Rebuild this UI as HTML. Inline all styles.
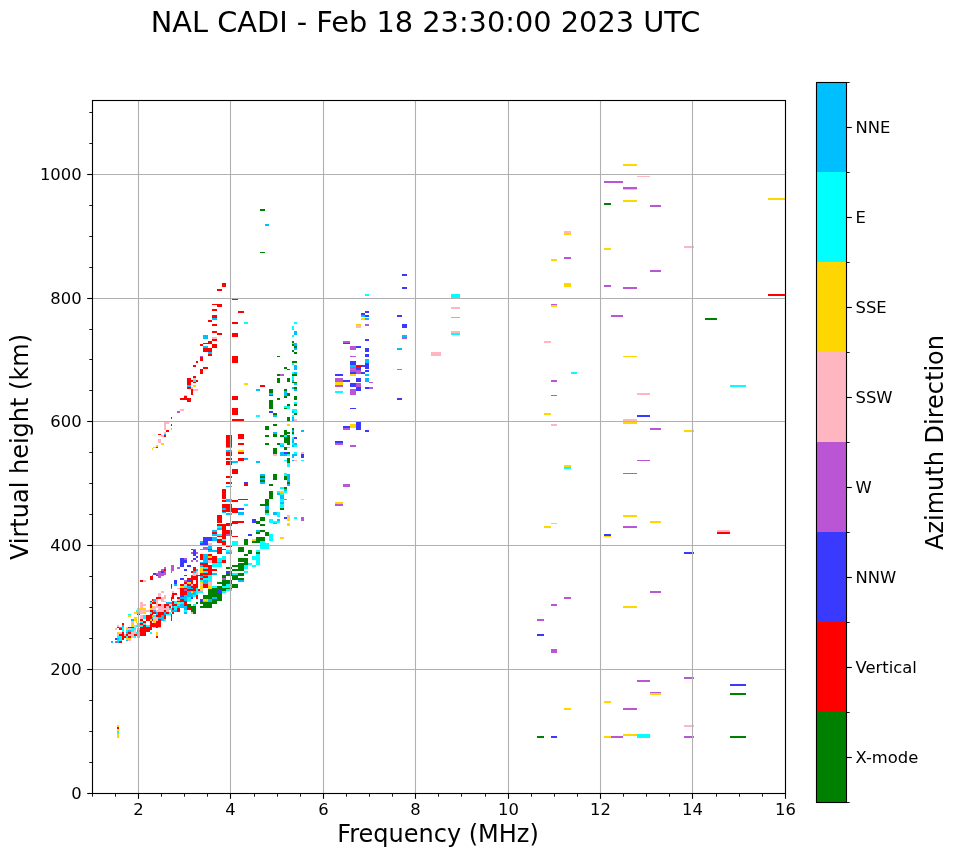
<!DOCTYPE html>
<html lang="en"><head><meta charset="utf-8"><title>NAL CADI ionogram</title>
<style>html,body{margin:0;padding:0;background:#fff}body{width:958px;height:857px;overflow:hidden}svg{display:block}text{font-family:"DejaVu Sans","Liberation Sans",sans-serif;fill:#000}</style></head><body>
<svg width="958" height="857" viewBox="0 0 958 857">
<rect width="958" height="857" fill="#fff"/>
<g shape-rendering="crispEdges">
<rect x="623" y="164" width="14" height="2" fill="#ffd700"/>
<rect x="637" y="176" width="13" height="1" fill="#ffb6c1"/>
<rect x="604" y="181" width="19" height="2" fill="#ba55d3"/>
<rect x="623" y="187" width="14" height="2" fill="#ba55d3"/>
<rect x="623" y="189" width="14" height="1" fill="#ffb6c1"/>
<rect x="623" y="200" width="14" height="2" fill="#ffd700"/>
<rect x="604" y="203" width="7" height="2" fill="#008000"/>
<rect x="650" y="205" width="11" height="2" fill="#ba55d3"/>
<rect x="564" y="231" width="7" height="2" fill="#ffb6c1"/>
<rect x="564" y="233" width="7" height="2" fill="#ffd700"/>
<rect x="604" y="248" width="7" height="2" fill="#ffd700"/>
<rect x="564" y="257" width="7" height="2" fill="#ba55d3"/>
<rect x="551" y="259" width="6" height="2" fill="#ffd700"/>
<rect x="650" y="270" width="11" height="2" fill="#ba55d3"/>
<rect x="564" y="283" width="7" height="4" fill="#ffd700"/>
<rect x="604" y="285" width="7" height="2" fill="#ba55d3"/>
<rect x="623" y="287" width="14" height="2" fill="#ba55d3"/>
<rect x="768" y="198" width="17" height="2" fill="#ffd700"/>
<rect x="684" y="246" width="10" height="2" fill="#ffb6c1"/>
<rect x="551" y="304" width="6" height="1" fill="#ba55d3"/>
<rect x="551" y="305" width="6" height="2" fill="#ffd700"/>
<rect x="611" y="315" width="12" height="2" fill="#ba55d3"/>
<rect x="544" y="341" width="7" height="2" fill="#ffb6c1"/>
<rect x="623" y="356" width="14" height="1" fill="#ffd700"/>
<rect x="571" y="372" width="6" height="2" fill="#00ffff"/>
<rect x="551" y="380" width="6" height="2" fill="#ba55d3"/>
<rect x="551" y="395" width="6" height="1" fill="#ba55d3"/>
<rect x="637" y="393" width="13" height="2" fill="#ffb6c1"/>
<rect x="544" y="413" width="7" height="2" fill="#ffd700"/>
<rect x="637" y="415" width="13" height="2" fill="#3a3aff"/>
<rect x="623" y="419" width="14" height="3" fill="#ffb6c1"/>
<rect x="623" y="422" width="14" height="2" fill="#ffd700"/>
<rect x="551" y="424" width="6" height="2" fill="#ffb6c1"/>
<rect x="650" y="428" width="11" height="2" fill="#ba55d3"/>
<rect x="684" y="430" width="10" height="2" fill="#ffd700"/>
<rect x="768" y="294" width="17" height="2" fill="#ff0000"/>
<rect x="705" y="318" width="12" height="2" fill="#008000"/>
<rect x="730" y="385" width="16" height="2" fill="#00ffff"/>
<rect x="637" y="460" width="13" height="1" fill="#ba55d3"/>
<rect x="564" y="465" width="7" height="2" fill="#ffd700"/>
<rect x="564" y="467" width="7" height="2" fill="#00ffff"/>
<rect x="623" y="473" width="14" height="1" fill="#ba55d3"/>
<rect x="623" y="515" width="14" height="2" fill="#ffd700"/>
<rect x="650" y="521" width="11" height="2" fill="#ffd700"/>
<rect x="551" y="523" width="6" height="1" fill="#ffb6c1"/>
<rect x="544" y="526" width="7" height="2" fill="#ffd700"/>
<rect x="623" y="526" width="14" height="2" fill="#ba55d3"/>
<rect x="604" y="534" width="7" height="2" fill="#3a3aff"/>
<rect x="604" y="536" width="7" height="1" fill="#ffd700"/>
<rect x="684" y="552" width="10" height="2" fill="#3a3aff"/>
<rect x="717" y="530" width="13" height="2" fill="#ffb6c1"/>
<rect x="717" y="532" width="13" height="2" fill="#ff0000"/>
<rect x="650" y="591" width="11" height="2" fill="#ba55d3"/>
<rect x="564" y="597" width="7" height="2" fill="#ba55d3"/>
<rect x="551" y="604" width="6" height="2" fill="#ba55d3"/>
<rect x="623" y="606" width="14" height="2" fill="#ffd700"/>
<rect x="537" y="619" width="7" height="2" fill="#ba55d3"/>
<rect x="537" y="634" width="7" height="2" fill="#3a3aff"/>
<rect x="551" y="649" width="6" height="4" fill="#ba55d3"/>
<rect x="684" y="677" width="10" height="2" fill="#ba55d3"/>
<rect x="637" y="680" width="13" height="2" fill="#ba55d3"/>
<rect x="650" y="692" width="11" height="1" fill="#ba55d3"/>
<rect x="650" y="693" width="11" height="2" fill="#ffd700"/>
<rect x="604" y="701" width="7" height="2" fill="#ffd700"/>
<rect x="564" y="708" width="7" height="2" fill="#ffd700"/>
<rect x="623" y="708" width="14" height="2" fill="#ba55d3"/>
<rect x="730" y="684" width="16" height="2" fill="#3a3aff"/>
<rect x="730" y="693" width="16" height="2" fill="#008000"/>
<rect x="684" y="725" width="10" height="2" fill="#ffb6c1"/>
<rect x="537" y="736" width="7" height="2" fill="#008000"/>
<rect x="551" y="736" width="6" height="2" fill="#3a3aff"/>
<rect x="604" y="736" width="7" height="2" fill="#ffd700"/>
<rect x="611" y="736" width="12" height="2" fill="#ba55d3"/>
<rect x="623" y="734" width="14" height="2" fill="#ffd700"/>
<rect x="637" y="734" width="13" height="4" fill="#00ffff"/>
<rect x="684" y="736" width="10" height="2" fill="#ba55d3"/>
<rect x="730" y="736" width="16" height="2" fill="#008000"/>
<rect x="402" y="274" width="5" height="2" fill="#3a3aff"/>
<rect x="402" y="287" width="5" height="2" fill="#3a3aff"/>
<rect x="365" y="294" width="4" height="2" fill="#00ffff"/>
<rect x="451" y="294" width="9" height="4" fill="#00ffff"/>
<rect x="451" y="307" width="9" height="2" fill="#ffb6c1"/>
<rect x="451" y="317" width="9" height="1" fill="#00ffff"/>
<rect x="451" y="331" width="9" height="2" fill="#ffb6c1"/>
<rect x="451" y="333" width="9" height="2" fill="#00ffff"/>
<rect x="431" y="352" width="10" height="4" fill="#ffb6c1"/>
<rect x="397" y="315" width="5" height="2" fill="#3a3aff"/>
<rect x="402" y="324" width="5" height="4" fill="#3a3aff"/>
<rect x="402" y="335" width="5" height="2" fill="#00bfff"/>
<rect x="402" y="337" width="5" height="2" fill="#ba55d3"/>
<rect x="397" y="348" width="5" height="2" fill="#00bfff"/>
<rect x="397" y="369" width="5" height="1" fill="#00bfff"/>
<rect x="365" y="311" width="4" height="2" fill="#3a3aff"/>
<rect x="365" y="315" width="4" height="2" fill="#3a3aff"/>
<rect x="365" y="318" width="4" height="2" fill="#00bfff"/>
<rect x="365" y="324" width="4" height="2" fill="#ba55d3"/>
<rect x="365" y="339" width="4" height="2" fill="#3a3aff"/>
<rect x="365" y="348" width="4" height="4" fill="#3a3aff"/>
<rect x="365" y="354" width="4" height="3" fill="#3a3aff"/>
<rect x="365" y="359" width="4" height="4" fill="#00bfff"/>
<rect x="365" y="363" width="4" height="6" fill="#3a3aff"/>
<rect x="365" y="370" width="4" height="2" fill="#3a3aff"/>
<rect x="365" y="374" width="4" height="2" fill="#00bfff"/>
<rect x="365" y="378" width="4" height="4" fill="#00bfff"/>
<rect x="365" y="387" width="4" height="2" fill="#3a3aff"/>
<rect x="361" y="313" width="4" height="2" fill="#3a3aff"/>
<rect x="361" y="315" width="4" height="2" fill="#00bfff"/>
<rect x="361" y="318" width="4" height="2" fill="#ffd700"/>
<rect x="361" y="365" width="4" height="2" fill="#3a3aff"/>
<rect x="361" y="372" width="4" height="2" fill="#3a3aff"/>
<rect x="356" y="324" width="5" height="2" fill="#ffd700"/>
<rect x="356" y="326" width="5" height="2" fill="#ffb6c1"/>
<rect x="356" y="346" width="5" height="2" fill="#3a3aff"/>
<rect x="356" y="365" width="5" height="2" fill="#ff0000"/>
<rect x="356" y="367" width="5" height="3" fill="#3a3aff"/>
<rect x="356" y="370" width="5" height="4" fill="#ba55d3"/>
<rect x="356" y="378" width="5" height="4" fill="#3a3aff"/>
<rect x="356" y="383" width="5" height="4" fill="#ba55d3"/>
<rect x="356" y="387" width="5" height="4" fill="#3a3aff"/>
<rect x="350" y="346" width="6" height="4" fill="#ba55d3"/>
<rect x="350" y="356" width="6" height="1" fill="#ba55d3"/>
<rect x="350" y="361" width="6" height="4" fill="#3a3aff"/>
<rect x="350" y="365" width="6" height="2" fill="#00bfff"/>
<rect x="350" y="367" width="6" height="2" fill="#ba55d3"/>
<rect x="350" y="369" width="6" height="1" fill="#00bfff"/>
<rect x="350" y="370" width="6" height="2" fill="#ba55d3"/>
<rect x="350" y="372" width="6" height="2" fill="#3a3aff"/>
<rect x="350" y="374" width="6" height="2" fill="#ffd700"/>
<rect x="350" y="383" width="6" height="4" fill="#3a3aff"/>
<rect x="350" y="389" width="6" height="6" fill="#ba55d3"/>
<rect x="343" y="341" width="7" height="2" fill="#ba55d3"/>
<rect x="343" y="343" width="7" height="1" fill="#3a3aff"/>
<rect x="343" y="380" width="7" height="2" fill="#3a3aff"/>
<rect x="335" y="374" width="8" height="2" fill="#3a3aff"/>
<rect x="335" y="378" width="8" height="4" fill="#ba55d3"/>
<rect x="335" y="382" width="8" height="3" fill="#ffd700"/>
<rect x="335" y="385" width="8" height="2" fill="#ba55d3"/>
<rect x="335" y="391" width="8" height="2" fill="#00ffff"/>
<rect x="369" y="382" width="4" height="1" fill="#ba55d3"/>
<rect x="369" y="387" width="4" height="2" fill="#ba55d3"/>
<rect x="397" y="398" width="5" height="2" fill="#3a3aff"/>
<rect x="350" y="408" width="6" height="1" fill="#3a3aff"/>
<rect x="343" y="426" width="7" height="2" fill="#3a3aff"/>
<rect x="343" y="428" width="7" height="2" fill="#ba55d3"/>
<rect x="350" y="424" width="6" height="4" fill="#ffd700"/>
<rect x="356" y="422" width="5" height="8" fill="#3a3aff"/>
<rect x="365" y="430" width="4" height="2" fill="#3a3aff"/>
<rect x="335" y="441" width="8" height="2" fill="#3a3aff"/>
<rect x="335" y="443" width="8" height="2" fill="#ba55d3"/>
<rect x="350" y="445" width="6" height="2" fill="#ba55d3"/>
<rect x="343" y="484" width="7" height="3" fill="#ba55d3"/>
<rect x="335" y="502" width="8" height="2" fill="#ffd700"/>
<rect x="335" y="504" width="8" height="2" fill="#ba55d3"/>
<rect x="260" y="209" width="5" height="2" fill="#008000"/>
<rect x="265" y="224" width="4" height="2" fill="#00bfff"/>
<rect x="260" y="252" width="5" height="1" fill="#008000"/>
<rect x="222" y="283" width="4" height="4" fill="#ff0000"/>
<rect x="217" y="289" width="5" height="2" fill="#ff0000"/>
<rect x="232" y="298" width="6" height="2" fill="#ff0000"/>
<rect x="212" y="304" width="5" height="1" fill="#ff0000"/>
<rect x="217" y="304" width="5" height="3" fill="#ff0000"/>
<rect x="212" y="309" width="5" height="2" fill="#ff0000"/>
<rect x="238" y="311" width="6" height="2" fill="#ff0000"/>
<rect x="212" y="315" width="5" height="3" fill="#ff0000"/>
<rect x="212" y="318" width="5" height="2" fill="#00bfff"/>
<rect x="232" y="322" width="6" height="2" fill="#ff0000"/>
<rect x="232" y="333" width="6" height="4" fill="#ff0000"/>
<rect x="232" y="356" width="6" height="7" fill="#ff0000"/>
<rect x="232" y="396" width="6" height="4" fill="#ff0000"/>
<rect x="244" y="322" width="4" height="2" fill="#00ffff"/>
<rect x="244" y="383" width="4" height="2" fill="#ffd700"/>
<rect x="212" y="324" width="5" height="2" fill="#ff0000"/>
<rect x="212" y="331" width="5" height="2" fill="#ff0000"/>
<rect x="212" y="337" width="5" height="2" fill="#ffb6c1"/>
<rect x="212" y="339" width="5" height="2" fill="#ff0000"/>
<rect x="212" y="344" width="5" height="4" fill="#ff0000"/>
<rect x="217" y="333" width="5" height="2" fill="#ff0000"/>
<rect x="208" y="320" width="4" height="2" fill="#ff0000"/>
<rect x="208" y="341" width="4" height="3" fill="#ff0000"/>
<rect x="208" y="348" width="4" height="4" fill="#ff0000"/>
<rect x="208" y="352" width="4" height="2" fill="#00bfff"/>
<rect x="208" y="354" width="4" height="2" fill="#ff0000"/>
<rect x="203" y="335" width="5" height="4" fill="#00bfff"/>
<rect x="203" y="343" width="5" height="1" fill="#ff0000"/>
<rect x="203" y="346" width="5" height="2" fill="#00bfff"/>
<rect x="203" y="348" width="5" height="4" fill="#ff0000"/>
<rect x="203" y="367" width="5" height="2" fill="#ff0000"/>
<rect x="200" y="344" width="3" height="2" fill="#ff0000"/>
<rect x="200" y="356" width="3" height="1" fill="#ba55d3"/>
<rect x="200" y="357" width="3" height="4" fill="#ff0000"/>
<rect x="200" y="369" width="3" height="5" fill="#ff0000"/>
<rect x="196" y="361" width="2" height="2" fill="#ff0000"/>
<rect x="196" y="380" width="2" height="2" fill="#ff0000"/>
<rect x="193" y="365" width="3" height="2" fill="#ff0000"/>
<rect x="193" y="376" width="3" height="2" fill="#ff0000"/>
<rect x="193" y="378" width="3" height="2" fill="#ffb6c1"/>
<rect x="193" y="380" width="3" height="2" fill="#00ffff"/>
<rect x="193" y="382" width="3" height="1" fill="#ff0000"/>
<rect x="193" y="385" width="3" height="2" fill="#ffd700"/>
<rect x="193" y="389" width="5" height="2" fill="#ffb6c1"/>
<rect x="191" y="380" width="2" height="2" fill="#ff0000"/>
<rect x="191" y="387" width="2" height="2" fill="#ffb6c1"/>
<rect x="191" y="389" width="2" height="6" fill="#ff0000"/>
<rect x="187" y="378" width="4" height="7" fill="#ff0000"/>
<rect x="187" y="385" width="4" height="2" fill="#00bfff"/>
<rect x="187" y="387" width="4" height="2" fill="#ff0000"/>
<rect x="187" y="398" width="4" height="4" fill="#ff0000"/>
<rect x="184" y="395" width="3" height="1" fill="#ffb6c1"/>
<rect x="184" y="396" width="3" height="4" fill="#ff0000"/>
<rect x="180" y="398" width="4" height="2" fill="#ff0000"/>
<rect x="180" y="409" width="4" height="2" fill="#ffb6c1"/>
<rect x="177" y="411" width="3" height="2" fill="#ba55d3"/>
<rect x="232" y="408" width="6" height="7" fill="#ff0000"/>
<rect x="232" y="419" width="12" height="2" fill="#ff0000"/>
<rect x="232" y="461" width="6" height="2" fill="#00bfff"/>
<rect x="232" y="469" width="6" height="5" fill="#ff0000"/>
<rect x="232" y="500" width="6" height="2" fill="#ff0000"/>
<rect x="238" y="434" width="6" height="5" fill="#ff0000"/>
<rect x="238" y="443" width="6" height="2" fill="#ff0000"/>
<rect x="238" y="450" width="6" height="2" fill="#ffd700"/>
<rect x="238" y="452" width="6" height="2" fill="#ff0000"/>
<rect x="238" y="458" width="6" height="3" fill="#ff0000"/>
<rect x="238" y="499" width="10" height="1" fill="#ff0000"/>
<rect x="244" y="458" width="4" height="2" fill="#00bfff"/>
<rect x="244" y="482" width="4" height="2" fill="#3a3aff"/>
<rect x="244" y="484" width="4" height="2" fill="#ff0000"/>
<rect x="226" y="435" width="6" height="12" fill="#ff0000"/>
<rect x="226" y="447" width="6" height="1" fill="#00bfff"/>
<rect x="226" y="450" width="6" height="2" fill="#00bfff"/>
<rect x="226" y="452" width="6" height="4" fill="#ff0000"/>
<rect x="226" y="458" width="6" height="2" fill="#ff0000"/>
<rect x="226" y="461" width="6" height="4" fill="#ff0000"/>
<rect x="226" y="476" width="6" height="2" fill="#ff0000"/>
<rect x="226" y="482" width="6" height="2" fill="#ff0000"/>
<rect x="226" y="486" width="6" height="1" fill="#00bfff"/>
<rect x="226" y="499" width="6" height="3" fill="#00bfff"/>
<rect x="222" y="489" width="4" height="10" fill="#ff0000"/>
<rect x="222" y="500" width="4" height="2" fill="#ff0000"/>
<rect x="171" y="417" width="1" height="2" fill="#ff0000"/>
<rect x="171" y="424" width="1" height="2" fill="#ff0000"/>
<rect x="171" y="428" width="1" height="2" fill="#00ffff"/>
<rect x="164" y="422" width="5" height="2" fill="#ffb6c1"/>
<rect x="164" y="424" width="2" height="6" fill="#ffb6c1"/>
<rect x="166" y="430" width="3" height="2" fill="#ff0000"/>
<rect x="164" y="432" width="2" height="2" fill="#ffb6c1"/>
<rect x="164" y="434" width="2" height="1" fill="#00bfff"/>
<rect x="164" y="435" width="2" height="2" fill="#ff0000"/>
<rect x="158" y="434" width="3" height="1" fill="#ff0000"/>
<rect x="161" y="435" width="3" height="2" fill="#ffb6c1"/>
<rect x="158" y="439" width="3" height="4" fill="#ffb6c1"/>
<rect x="161" y="443" width="3" height="2" fill="#ffd700"/>
<rect x="156" y="445" width="2" height="2" fill="#ffd700"/>
<rect x="156" y="447" width="2" height="1" fill="#ff0000"/>
<rect x="153" y="447" width="3" height="1" fill="#ffb6c1"/>
<rect x="152" y="448" width="1" height="2" fill="#ffd700"/>
<rect x="256" y="389" width="4" height="2" fill="#00bfff"/>
<rect x="256" y="415" width="4" height="2" fill="#00ffff"/>
<rect x="260" y="385" width="5" height="2" fill="#ff0000"/>
<rect x="265" y="426" width="4" height="4" fill="#008000"/>
<rect x="265" y="435" width="4" height="2" fill="#008000"/>
<rect x="265" y="443" width="4" height="2" fill="#008000"/>
<rect x="269" y="389" width="4" height="4" fill="#008000"/>
<rect x="269" y="393" width="4" height="2" fill="#00bfff"/>
<rect x="269" y="395" width="4" height="1" fill="#3a3aff"/>
<rect x="269" y="400" width="4" height="9" fill="#008000"/>
<rect x="269" y="411" width="4" height="2" fill="#3a3aff"/>
<rect x="273" y="413" width="4" height="2" fill="#008000"/>
<rect x="273" y="415" width="4" height="2" fill="#00bfff"/>
<rect x="273" y="424" width="4" height="2" fill="#008000"/>
<rect x="273" y="432" width="4" height="2" fill="#00bfff"/>
<rect x="273" y="434" width="4" height="3" fill="#008000"/>
<rect x="273" y="448" width="4" height="2" fill="#008000"/>
<rect x="277" y="380" width="3" height="3" fill="#008000"/>
<rect x="277" y="398" width="3" height="2" fill="#008000"/>
<rect x="277" y="443" width="3" height="2" fill="#008000"/>
<rect x="280" y="435" width="4" height="2" fill="#008000"/>
<rect x="280" y="443" width="4" height="2" fill="#00ffff"/>
<rect x="280" y="445" width="4" height="2" fill="#00bfff"/>
<rect x="284" y="389" width="3" height="2" fill="#008000"/>
<rect x="284" y="391" width="3" height="5" fill="#00bfff"/>
<rect x="284" y="396" width="3" height="2" fill="#008000"/>
<rect x="284" y="406" width="3" height="2" fill="#00ffff"/>
<rect x="284" y="408" width="3" height="1" fill="#008000"/>
<rect x="284" y="430" width="3" height="5" fill="#008000"/>
<rect x="284" y="435" width="3" height="2" fill="#00ffff"/>
<rect x="284" y="437" width="3" height="6" fill="#008000"/>
<rect x="284" y="447" width="3" height="3" fill="#008000"/>
<rect x="287" y="380" width="3" height="2" fill="#008000"/>
<rect x="287" y="393" width="3" height="3" fill="#008000"/>
<rect x="287" y="404" width="3" height="2" fill="#008000"/>
<rect x="287" y="406" width="3" height="3" fill="#00ffff"/>
<rect x="287" y="417" width="3" height="4" fill="#008000"/>
<rect x="287" y="424" width="3" height="2" fill="#ffd700"/>
<rect x="287" y="432" width="3" height="2" fill="#008000"/>
<rect x="287" y="435" width="3" height="10" fill="#008000"/>
<rect x="287" y="447" width="3" height="1" fill="#00ffff"/>
<rect x="292" y="380" width="2" height="2" fill="#00bfff"/>
<rect x="292" y="382" width="5" height="1" fill="#008000"/>
<rect x="294" y="383" width="3" height="2" fill="#00bfff"/>
<rect x="292" y="387" width="2" height="2" fill="#00bfff"/>
<rect x="294" y="387" width="3" height="2" fill="#008000"/>
<rect x="294" y="389" width="3" height="2" fill="#00bfff"/>
<rect x="294" y="396" width="3" height="4" fill="#008000"/>
<rect x="294" y="402" width="3" height="2" fill="#00ffff"/>
<rect x="294" y="404" width="3" height="2" fill="#008000"/>
<rect x="292" y="409" width="5" height="4" fill="#00ffff"/>
<rect x="292" y="411" width="2" height="2" fill="#00bfff"/>
<rect x="294" y="413" width="3" height="2" fill="#008000"/>
<rect x="292" y="415" width="2" height="2" fill="#00ffff"/>
<rect x="292" y="417" width="2" height="4" fill="#00bfff"/>
<rect x="294" y="419" width="3" height="2" fill="#ffb6c1"/>
<rect x="292" y="428" width="2" height="2" fill="#008000"/>
<rect x="292" y="430" width="2" height="2" fill="#00bfff"/>
<rect x="292" y="432" width="2" height="2" fill="#008000"/>
<rect x="292" y="434" width="2" height="1" fill="#00ffff"/>
<rect x="292" y="437" width="2" height="2" fill="#00ffff"/>
<rect x="292" y="439" width="2" height="4" fill="#00bfff"/>
<rect x="292" y="443" width="2" height="2" fill="#00ffff"/>
<rect x="292" y="445" width="2" height="2" fill="#00bfff"/>
<rect x="294" y="437" width="3" height="2" fill="#3a3aff"/>
<rect x="294" y="443" width="3" height="2" fill="#00bfff"/>
<rect x="294" y="445" width="3" height="2" fill="#00ffff"/>
<rect x="301" y="430" width="3" height="2" fill="#00bfff"/>
<rect x="294" y="322" width="3" height="2" fill="#00ffff"/>
<rect x="294" y="331" width="3" height="4" fill="#00bfff"/>
<rect x="294" y="343" width="3" height="3" fill="#00bfff"/>
<rect x="294" y="346" width="3" height="2" fill="#008000"/>
<rect x="294" y="348" width="3" height="2" fill="#00bfff"/>
<rect x="294" y="352" width="3" height="2" fill="#008000"/>
<rect x="292" y="361" width="5" height="2" fill="#008000"/>
<rect x="294" y="365" width="3" height="5" fill="#00bfff"/>
<rect x="294" y="372" width="3" height="2" fill="#00bfff"/>
<rect x="292" y="374" width="5" height="2" fill="#008000"/>
<rect x="292" y="326" width="2" height="4" fill="#00ffff"/>
<rect x="292" y="335" width="2" height="2" fill="#00ffff"/>
<rect x="292" y="341" width="2" height="2" fill="#008000"/>
<rect x="292" y="343" width="2" height="1" fill="#00ffff"/>
<rect x="292" y="344" width="2" height="2" fill="#008000"/>
<rect x="292" y="350" width="2" height="2" fill="#008000"/>
<rect x="292" y="363" width="2" height="2" fill="#00ffff"/>
<rect x="292" y="372" width="2" height="2" fill="#00ffff"/>
<rect x="292" y="376" width="2" height="4" fill="#00ffff"/>
<rect x="277" y="356" width="3" height="1" fill="#008000"/>
<rect x="277" y="374" width="3" height="2" fill="#008000"/>
<rect x="277" y="378" width="3" height="4" fill="#008000"/>
<rect x="280" y="374" width="4" height="2" fill="#ba55d3"/>
<rect x="284" y="367" width="3" height="2" fill="#008000"/>
<rect x="287" y="369" width="3" height="1" fill="#008000"/>
<rect x="287" y="378" width="3" height="4" fill="#008000"/>
<rect x="244" y="504" width="4" height="2" fill="#00ffff"/>
<rect x="256" y="461" width="4" height="2" fill="#00bfff"/>
<rect x="260" y="474" width="5" height="2" fill="#00bfff"/>
<rect x="260" y="476" width="5" height="2" fill="#008000"/>
<rect x="260" y="478" width="5" height="2" fill="#00bfff"/>
<rect x="260" y="480" width="5" height="2" fill="#008000"/>
<rect x="260" y="482" width="5" height="2" fill="#00bfff"/>
<rect x="260" y="504" width="5" height="2" fill="#008000"/>
<rect x="265" y="499" width="4" height="7" fill="#008000"/>
<rect x="265" y="506" width="4" height="4" fill="#00bfff"/>
<rect x="265" y="510" width="4" height="3" fill="#008000"/>
<rect x="265" y="513" width="4" height="2" fill="#00ffff"/>
<rect x="269" y="484" width="4" height="2" fill="#008000"/>
<rect x="269" y="491" width="4" height="8" fill="#008000"/>
<rect x="273" y="448" width="4" height="6" fill="#008000"/>
<rect x="273" y="454" width="4" height="2" fill="#ffb6c1"/>
<rect x="273" y="474" width="4" height="6" fill="#008000"/>
<rect x="273" y="512" width="4" height="3" fill="#00bfff"/>
<rect x="277" y="491" width="3" height="2" fill="#00ffff"/>
<rect x="277" y="493" width="3" height="2" fill="#00bfff"/>
<rect x="277" y="512" width="3" height="5" fill="#00ffff"/>
<rect x="280" y="452" width="4" height="4" fill="#00bfff"/>
<rect x="280" y="487" width="4" height="2" fill="#00ffff"/>
<rect x="280" y="491" width="4" height="2" fill="#ffd700"/>
<rect x="280" y="493" width="4" height="2" fill="#00ffff"/>
<rect x="280" y="495" width="4" height="4" fill="#00bfff"/>
<rect x="280" y="499" width="4" height="3" fill="#00ffff"/>
<rect x="280" y="502" width="4" height="2" fill="#00bfff"/>
<rect x="280" y="504" width="4" height="4" fill="#00ffff"/>
<rect x="280" y="508" width="4" height="2" fill="#008000"/>
<rect x="284" y="452" width="3" height="2" fill="#3a3aff"/>
<rect x="284" y="454" width="3" height="2" fill="#00bfff"/>
<rect x="284" y="460" width="3" height="1" fill="#00ffff"/>
<rect x="284" y="473" width="3" height="3" fill="#00ffff"/>
<rect x="284" y="476" width="3" height="4" fill="#008000"/>
<rect x="284" y="487" width="3" height="2" fill="#008000"/>
<rect x="284" y="489" width="3" height="2" fill="#00bfff"/>
<rect x="284" y="491" width="3" height="2" fill="#00ffff"/>
<rect x="284" y="499" width="3" height="1" fill="#00bfff"/>
<rect x="287" y="452" width="3" height="2" fill="#008000"/>
<rect x="287" y="454" width="3" height="2" fill="#00ffff"/>
<rect x="287" y="458" width="3" height="5" fill="#008000"/>
<rect x="287" y="463" width="3" height="4" fill="#00ffff"/>
<rect x="287" y="474" width="3" height="8" fill="#00bfff"/>
<rect x="287" y="482" width="3" height="2" fill="#008000"/>
<rect x="287" y="484" width="3" height="2" fill="#00bfff"/>
<rect x="292" y="454" width="2" height="4" fill="#00bfff"/>
<rect x="292" y="460" width="2" height="1" fill="#00bfff"/>
<rect x="294" y="452" width="3" height="2" fill="#00ffff"/>
<rect x="294" y="454" width="3" height="2" fill="#00bfff"/>
<rect x="294" y="460" width="3" height="1" fill="#ffb6c1"/>
<rect x="301" y="452" width="3" height="2" fill="#ffb6c1"/>
<rect x="301" y="454" width="3" height="4" fill="#3a3aff"/>
<rect x="301" y="460" width="3" height="1" fill="#00ffff"/>
<rect x="301" y="499" width="3" height="1" fill="#ffb6c1"/>
<rect x="287" y="517" width="3" height="4" fill="#ffd700"/>
<rect x="287" y="515" width="3" height="2" fill="#ffb6c1"/>
<rect x="284" y="517" width="3" height="2" fill="#3a3aff"/>
<rect x="294" y="517" width="3" height="2" fill="#00ffff"/>
<rect x="301" y="517" width="3" height="4" fill="#ba55d3"/>
<rect x="260" y="517" width="5" height="4" fill="#008000"/>
<rect x="252" y="519" width="4" height="4" fill="#3a3aff"/>
<rect x="256" y="521" width="4" height="3" fill="#008000"/>
<rect x="260" y="524" width="5" height="2" fill="#008000"/>
<rect x="269" y="519" width="4" height="4" fill="#00ffff"/>
<rect x="273" y="521" width="7" height="2" fill="#00ffff"/>
<rect x="277" y="519" width="3" height="2" fill="#00bfff"/>
<rect x="273" y="523" width="4" height="1" fill="#00bfff"/>
<rect x="287" y="523" width="3" height="3" fill="#ffd700"/>
<rect x="256" y="530" width="4" height="2" fill="#00bfff"/>
<rect x="260" y="530" width="5" height="2" fill="#008000"/>
<rect x="256" y="532" width="4" height="2" fill="#008000"/>
<rect x="265" y="532" width="4" height="4" fill="#008000"/>
<rect x="248" y="534" width="4" height="2" fill="#3a3aff"/>
<rect x="269" y="534" width="4" height="7" fill="#00ffff"/>
<rect x="280" y="537" width="4" height="2" fill="#ffd700"/>
<rect x="256" y="537" width="9" height="4" fill="#008000"/>
<rect x="252" y="539" width="4" height="2" fill="#ffd700"/>
<rect x="244" y="539" width="4" height="6" fill="#008000"/>
<rect x="252" y="541" width="8" height="2" fill="#008000"/>
<rect x="260" y="541" width="5" height="2" fill="#00ffff"/>
<rect x="260" y="543" width="9" height="6" fill="#00ffff"/>
<rect x="248" y="550" width="4" height="4" fill="#008000"/>
<rect x="256" y="550" width="4" height="2" fill="#00ffff"/>
<rect x="256" y="552" width="4" height="2" fill="#008000"/>
<rect x="244" y="554" width="4" height="2" fill="#008000"/>
<rect x="256" y="554" width="4" height="11" fill="#00ffff"/>
<rect x="252" y="556" width="4" height="4" fill="#00ffff"/>
<rect x="244" y="558" width="4" height="7" fill="#008000"/>
<rect x="248" y="563" width="4" height="2" fill="#00ffff"/>
<rect x="244" y="565" width="4" height="4" fill="#00ffff"/>
<rect x="252" y="565" width="4" height="2" fill="#00ffff"/>
<rect x="244" y="571" width="4" height="2" fill="#00ffff"/>
<rect x="238" y="508" width="6" height="2" fill="#3a3aff"/>
<rect x="238" y="512" width="6" height="3" fill="#00bfff"/>
<rect x="232" y="521" width="12" height="2" fill="#ff0000"/>
<rect x="238" y="547" width="6" height="5" fill="#008000"/>
<rect x="238" y="558" width="6" height="4" fill="#008000"/>
<rect x="238" y="563" width="6" height="5" fill="#008000"/>
<rect x="232" y="508" width="6" height="5" fill="#ff0000"/>
<rect x="232" y="523" width="6" height="1" fill="#ff0000"/>
<rect x="232" y="536" width="6" height="1" fill="#ff0000"/>
<rect x="232" y="541" width="6" height="4" fill="#00ffff"/>
<rect x="232" y="565" width="6" height="2" fill="#008000"/>
<rect x="226" y="504" width="6" height="8" fill="#ff0000"/>
<rect x="226" y="513" width="6" height="2" fill="#00bfff"/>
<rect x="226" y="523" width="6" height="3" fill="#ff0000"/>
<rect x="226" y="530" width="6" height="4" fill="#ff0000"/>
<rect x="226" y="534" width="6" height="2" fill="#ba55d3"/>
<rect x="226" y="545" width="6" height="2" fill="#ff0000"/>
<rect x="226" y="550" width="6" height="2" fill="#00ffff"/>
<rect x="226" y="552" width="6" height="2" fill="#00bfff"/>
<rect x="222" y="504" width="4" height="4" fill="#ff0000"/>
<rect x="222" y="508" width="4" height="2" fill="#00bfff"/>
<rect x="222" y="510" width="4" height="2" fill="#ff0000"/>
<rect x="222" y="512" width="4" height="1" fill="#00bfff"/>
<rect x="222" y="524" width="4" height="15" fill="#ff0000"/>
<rect x="222" y="539" width="4" height="2" fill="#00ffff"/>
<rect x="222" y="541" width="4" height="4" fill="#ff0000"/>
<rect x="222" y="549" width="4" height="1" fill="#ff0000"/>
<rect x="222" y="556" width="4" height="4" fill="#00ffff"/>
<rect x="222" y="560" width="4" height="3" fill="#ff0000"/>
<rect x="217" y="515" width="5" height="8" fill="#ff0000"/>
<rect x="217" y="524" width="5" height="2" fill="#ff0000"/>
<rect x="217" y="526" width="5" height="2" fill="#00ffff"/>
<rect x="217" y="528" width="5" height="2" fill="#00bfff"/>
<rect x="217" y="534" width="5" height="2" fill="#00ffff"/>
<rect x="217" y="536" width="5" height="1" fill="#ff0000"/>
<rect x="217" y="539" width="5" height="4" fill="#ff0000"/>
<rect x="217" y="547" width="5" height="7" fill="#ff0000"/>
<rect x="217" y="558" width="5" height="4" fill="#00ffff"/>
<rect x="212" y="563" width="10" height="4" fill="#00ffff"/>
<rect x="212" y="530" width="5" height="2" fill="#00bfff"/>
<rect x="212" y="532" width="5" height="2" fill="#ff0000"/>
<rect x="212" y="534" width="5" height="2" fill="#00bfff"/>
<rect x="212" y="537" width="5" height="4" fill="#00bfff"/>
<rect x="208" y="550" width="9" height="2" fill="#00bfff"/>
<rect x="212" y="556" width="5" height="7" fill="#ff0000"/>
<rect x="203" y="537" width="9" height="4" fill="#3a3aff"/>
<rect x="200" y="541" width="8" height="4" fill="#3a3aff"/>
<rect x="200" y="541" width="3" height="2" fill="#00bfff"/>
<rect x="208" y="543" width="4" height="2" fill="#ffb6c1"/>
<rect x="208" y="546" width="4" height="3" fill="#00bfff"/>
<rect x="208" y="549" width="4" height="1" fill="#ff0000"/>
<rect x="208" y="554" width="4" height="2" fill="#ff0000"/>
<rect x="208" y="556" width="4" height="2" fill="#ffd700"/>
<rect x="208" y="558" width="4" height="2" fill="#ff0000"/>
<rect x="208" y="560" width="4" height="3" fill="#ffb6c1"/>
<rect x="208" y="565" width="4" height="3" fill="#ff0000"/>
<rect x="203" y="547" width="5" height="2" fill="#ba55d3"/>
<rect x="200" y="549" width="8" height="1" fill="#00bfff"/>
<rect x="203" y="554" width="5" height="9" fill="#00bfff"/>
<rect x="200" y="563" width="8" height="2" fill="#ff0000"/>
<rect x="203" y="565" width="5" height="3" fill="#ff0000"/>
<rect x="200" y="554" width="3" height="6" fill="#ff0000"/>
<rect x="200" y="565" width="3" height="2" fill="#00bfff"/>
<rect x="191" y="549" width="2" height="1" fill="#3a3aff"/>
<rect x="193" y="549" width="3" height="1" fill="#ba55d3"/>
<rect x="193" y="550" width="3" height="6" fill="#3a3aff"/>
<rect x="191" y="552" width="2" height="2" fill="#ba55d3"/>
<rect x="196" y="552" width="2" height="2" fill="#ba55d3"/>
<rect x="196" y="556" width="2" height="2" fill="#3a3aff"/>
<rect x="193" y="558" width="3" height="2" fill="#3a3aff"/>
<rect x="191" y="560" width="2" height="2" fill="#ba55d3"/>
<rect x="196" y="560" width="2" height="2" fill="#ba55d3"/>
<rect x="180" y="558" width="4" height="9" fill="#3a3aff"/>
<rect x="184" y="558" width="3" height="2" fill="#ba55d3"/>
<rect x="184" y="560" width="3" height="3" fill="#3a3aff"/>
<rect x="187" y="565" width="4" height="2" fill="#3a3aff"/>
<rect x="174" y="580" width="3" height="4" fill="#3a3aff"/>
<rect x="174" y="584" width="3" height="2" fill="#00bfff"/>
<rect x="174" y="593" width="3" height="2" fill="#ff0000"/>
<rect x="174" y="601" width="3" height="1" fill="#00ffff"/>
<rect x="177" y="567" width="3" height="2" fill="#ba55d3"/>
<rect x="177" y="588" width="3" height="1" fill="#ffb6c1"/>
<rect x="177" y="597" width="3" height="2" fill="#ff0000"/>
<rect x="177" y="599" width="3" height="2" fill="#ffb6c1"/>
<rect x="177" y="601" width="3" height="1" fill="#ff0000"/>
<rect x="180" y="578" width="4" height="2" fill="#3a3aff"/>
<rect x="180" y="584" width="4" height="2" fill="#ff0000"/>
<rect x="180" y="586" width="4" height="2" fill="#ffd700"/>
<rect x="180" y="588" width="4" height="7" fill="#ff0000"/>
<rect x="180" y="595" width="4" height="2" fill="#3a3aff"/>
<rect x="180" y="597" width="4" height="2" fill="#00bfff"/>
<rect x="180" y="599" width="4" height="2" fill="#ff0000"/>
<rect x="180" y="601" width="4" height="1" fill="#3a3aff"/>
<rect x="184" y="569" width="3" height="2" fill="#3a3aff"/>
<rect x="184" y="575" width="3" height="1" fill="#3a3aff"/>
<rect x="184" y="580" width="3" height="2" fill="#ba55d3"/>
<rect x="184" y="582" width="3" height="2" fill="#ff0000"/>
<rect x="184" y="584" width="3" height="2" fill="#ffb6c1"/>
<rect x="184" y="586" width="3" height="2" fill="#00ffff"/>
<rect x="184" y="588" width="3" height="1" fill="#ff0000"/>
<rect x="184" y="589" width="3" height="2" fill="#ba55d3"/>
<rect x="184" y="591" width="3" height="4" fill="#ff0000"/>
<rect x="184" y="595" width="3" height="6" fill="#00bfff"/>
<rect x="184" y="601" width="3" height="1" fill="#ff0000"/>
<rect x="187" y="578" width="4" height="2" fill="#ff0000"/>
<rect x="187" y="580" width="4" height="2" fill="#3a3aff"/>
<rect x="187" y="582" width="4" height="2" fill="#ffd700"/>
<rect x="187" y="584" width="4" height="2" fill="#ff0000"/>
<rect x="187" y="586" width="4" height="3" fill="#00bfff"/>
<rect x="187" y="589" width="4" height="2" fill="#ff0000"/>
<rect x="187" y="591" width="4" height="6" fill="#00bfff"/>
<rect x="187" y="597" width="4" height="4" fill="#00ffff"/>
<rect x="187" y="601" width="4" height="1" fill="#ffd700"/>
<rect x="191" y="571" width="2" height="2" fill="#ff0000"/>
<rect x="191" y="575" width="2" height="1" fill="#ba55d3"/>
<rect x="191" y="576" width="2" height="8" fill="#ff0000"/>
<rect x="191" y="584" width="2" height="2" fill="#ffb6c1"/>
<rect x="191" y="586" width="2" height="2" fill="#ff0000"/>
<rect x="191" y="588" width="2" height="1" fill="#00bfff"/>
<rect x="191" y="589" width="2" height="2" fill="#ff0000"/>
<rect x="191" y="591" width="2" height="2" fill="#ffd700"/>
<rect x="191" y="593" width="2" height="4" fill="#00bfff"/>
<rect x="191" y="597" width="2" height="2" fill="#3a3aff"/>
<rect x="193" y="567" width="3" height="4" fill="#ff0000"/>
<rect x="193" y="571" width="3" height="2" fill="#00bfff"/>
<rect x="193" y="573" width="3" height="3" fill="#ffb6c1"/>
<rect x="193" y="576" width="3" height="4" fill="#ff0000"/>
<rect x="193" y="584" width="3" height="7" fill="#ff0000"/>
<rect x="193" y="591" width="3" height="4" fill="#00bfff"/>
<rect x="193" y="595" width="3" height="2" fill="#00ffff"/>
<rect x="196" y="569" width="2" height="2" fill="#00bfff"/>
<rect x="196" y="571" width="2" height="4" fill="#ffb6c1"/>
<rect x="196" y="575" width="2" height="13" fill="#ff0000"/>
<rect x="196" y="588" width="2" height="7" fill="#00ffff"/>
<rect x="196" y="595" width="2" height="4" fill="#ff0000"/>
<rect x="198" y="575" width="2" height="1" fill="#ff0000"/>
<rect x="198" y="589" width="2" height="2" fill="#ff0000"/>
<rect x="198" y="591" width="2" height="2" fill="#00ffff"/>
<rect x="200" y="562" width="3" height="1" fill="#00bfff"/>
<rect x="200" y="567" width="3" height="6" fill="#ffd700"/>
<rect x="200" y="573" width="3" height="3" fill="#ff0000"/>
<rect x="200" y="576" width="3" height="2" fill="#00bfff"/>
<rect x="200" y="578" width="3" height="2" fill="#ff0000"/>
<rect x="200" y="580" width="3" height="2" fill="#00ffff"/>
<rect x="200" y="582" width="3" height="2" fill="#ffd700"/>
<rect x="200" y="584" width="3" height="2" fill="#ffb6c1"/>
<rect x="200" y="586" width="3" height="3" fill="#ffd700"/>
<rect x="200" y="589" width="3" height="2" fill="#ffb6c1"/>
<rect x="200" y="591" width="3" height="2" fill="#00ffff"/>
<rect x="200" y="599" width="3" height="2" fill="#3a3aff"/>
<rect x="200" y="601" width="3" height="1" fill="#008000"/>
<rect x="203" y="563" width="5" height="4" fill="#ff0000"/>
<rect x="203" y="567" width="5" height="2" fill="#00ffff"/>
<rect x="203" y="569" width="5" height="2" fill="#ff0000"/>
<rect x="203" y="571" width="5" height="2" fill="#00ffff"/>
<rect x="203" y="573" width="5" height="2" fill="#ff0000"/>
<rect x="203" y="575" width="5" height="1" fill="#00bfff"/>
<rect x="203" y="576" width="5" height="2" fill="#ff0000"/>
<rect x="203" y="578" width="5" height="2" fill="#00ffff"/>
<rect x="203" y="580" width="5" height="4" fill="#00bfff"/>
<rect x="203" y="584" width="5" height="4" fill="#ff0000"/>
<rect x="203" y="595" width="5" height="4" fill="#008000"/>
<rect x="203" y="599" width="5" height="2" fill="#ffd700"/>
<rect x="203" y="601" width="5" height="1" fill="#00ffff"/>
<rect x="208" y="565" width="4" height="10" fill="#ff0000"/>
<rect x="208" y="575" width="4" height="7" fill="#00ffff"/>
<rect x="208" y="582" width="4" height="4" fill="#ffb6c1"/>
<rect x="208" y="586" width="4" height="3" fill="#ffd700"/>
<rect x="208" y="589" width="4" height="13" fill="#008000"/>
<rect x="208" y="599" width="4" height="3" fill="#00bfff"/>
<rect x="212" y="569" width="5" height="2" fill="#ff0000"/>
<rect x="212" y="573" width="5" height="2" fill="#00bfff"/>
<rect x="212" y="586" width="5" height="2" fill="#00ffff"/>
<rect x="212" y="588" width="5" height="9" fill="#008000"/>
<rect x="212" y="597" width="5" height="2" fill="#00bfff"/>
<rect x="212" y="599" width="5" height="3" fill="#008000"/>
<rect x="217" y="562" width="5" height="1" fill="#00bfff"/>
<rect x="217" y="582" width="5" height="2" fill="#008000"/>
<rect x="217" y="586" width="5" height="3" fill="#008000"/>
<rect x="217" y="589" width="5" height="4" fill="#3a3aff"/>
<rect x="217" y="593" width="5" height="8" fill="#008000"/>
<rect x="222" y="575" width="4" height="3" fill="#008000"/>
<rect x="222" y="578" width="4" height="2" fill="#ba55d3"/>
<rect x="222" y="580" width="4" height="6" fill="#008000"/>
<rect x="222" y="586" width="4" height="2" fill="#00ffff"/>
<rect x="222" y="588" width="4" height="3" fill="#008000"/>
<rect x="222" y="591" width="4" height="2" fill="#00ffff"/>
<rect x="226" y="567" width="6" height="2" fill="#008000"/>
<rect x="226" y="571" width="6" height="2" fill="#3a3aff"/>
<rect x="226" y="573" width="6" height="3" fill="#008000"/>
<rect x="226" y="580" width="6" height="4" fill="#008000"/>
<rect x="226" y="584" width="6" height="4" fill="#00ffff"/>
<rect x="226" y="588" width="6" height="1" fill="#008000"/>
<rect x="226" y="589" width="6" height="2" fill="#00ffff"/>
<rect x="232" y="569" width="6" height="2" fill="#008000"/>
<rect x="232" y="573" width="6" height="2" fill="#00ffff"/>
<rect x="232" y="575" width="6" height="5" fill="#008000"/>
<rect x="232" y="584" width="6" height="4" fill="#008000"/>
<rect x="238" y="563" width="6" height="8" fill="#008000"/>
<rect x="238" y="573" width="6" height="3" fill="#008000"/>
<rect x="238" y="578" width="6" height="2" fill="#008000"/>
<rect x="238" y="580" width="6" height="2" fill="#00bfff"/>
<rect x="174" y="601" width="3" height="3" fill="#00ffff"/>
<rect x="174" y="604" width="3" height="2" fill="#ff0000"/>
<rect x="174" y="606" width="3" height="4" fill="#00ffff"/>
<rect x="174" y="610" width="3" height="2" fill="#00bfff"/>
<rect x="177" y="602" width="3" height="2" fill="#ffd700"/>
<rect x="177" y="604" width="3" height="2" fill="#00ffff"/>
<rect x="177" y="606" width="3" height="2" fill="#00bfff"/>
<rect x="177" y="608" width="3" height="4" fill="#ff0000"/>
<rect x="180" y="602" width="4" height="2" fill="#00ffff"/>
<rect x="180" y="604" width="4" height="4" fill="#00bfff"/>
<rect x="184" y="601" width="3" height="5" fill="#ff0000"/>
<rect x="184" y="606" width="3" height="4" fill="#00bfff"/>
<rect x="184" y="610" width="3" height="2" fill="#00ffff"/>
<rect x="184" y="612" width="3" height="2" fill="#00bfff"/>
<rect x="187" y="604" width="4" height="4" fill="#008000"/>
<rect x="187" y="608" width="4" height="2" fill="#ff0000"/>
<rect x="191" y="606" width="2" height="6" fill="#008000"/>
<rect x="191" y="612" width="2" height="2" fill="#ffb6c1"/>
<rect x="193" y="604" width="3" height="2" fill="#00ffff"/>
<rect x="193" y="606" width="3" height="8" fill="#008000"/>
<rect x="196" y="602" width="2" height="2" fill="#008000"/>
<rect x="200" y="601" width="3" height="3" fill="#008000"/>
<rect x="200" y="606" width="3" height="2" fill="#008000"/>
<rect x="203" y="602" width="5" height="6" fill="#008000"/>
<rect x="208" y="602" width="4" height="6" fill="#008000"/>
<rect x="212" y="602" width="5" height="2" fill="#008000"/>
<rect x="171" y="565" width="3" height="6" fill="#ba55d3"/>
<rect x="171" y="571" width="1" height="2" fill="#ba55d3"/>
<rect x="164" y="567" width="2" height="2" fill="#ba55d3"/>
<rect x="164" y="569" width="2" height="2" fill="#ff0000"/>
<rect x="164" y="571" width="2" height="4" fill="#ba55d3"/>
<rect x="161" y="569" width="3" height="2" fill="#ba55d3"/>
<rect x="161" y="571" width="3" height="2" fill="#3a3aff"/>
<rect x="161" y="573" width="3" height="3" fill="#ba55d3"/>
<rect x="158" y="571" width="3" height="7" fill="#ba55d3"/>
<rect x="156" y="573" width="2" height="2" fill="#ba55d3"/>
<rect x="156" y="575" width="2" height="1" fill="#ff0000"/>
<rect x="153" y="573" width="3" height="2" fill="#3a3aff"/>
<rect x="152" y="575" width="1" height="1" fill="#ba55d3"/>
<rect x="150" y="576" width="3" height="4" fill="#ff0000"/>
<rect x="140" y="580" width="3" height="2" fill="#ff0000"/>
<rect x="143" y="580" width="3" height="2" fill="#ffb6c1"/>
<rect x="171" y="584" width="1" height="4" fill="#ff0000"/>
<rect x="171" y="588" width="1" height="1" fill="#ba55d3"/>
<rect x="161" y="591" width="3" height="2" fill="#ffb6c1"/>
<rect x="172" y="591" width="2" height="2" fill="#ffb6c1"/>
<rect x="158" y="593" width="3" height="4" fill="#ffb6c1"/>
<rect x="172" y="593" width="5" height="2" fill="#ff0000"/>
<rect x="164" y="595" width="2" height="4" fill="#ffb6c1"/>
<rect x="171" y="595" width="1" height="2" fill="#ffb6c1"/>
<rect x="172" y="595" width="2" height="2" fill="#ff0000"/>
<rect x="156" y="597" width="5" height="2" fill="#ff0000"/>
<rect x="161" y="597" width="5" height="2" fill="#ffb6c1"/>
<rect x="161" y="599" width="3" height="3" fill="#ffb6c1"/>
<rect x="164" y="601" width="2" height="1" fill="#ffb6c1"/>
<rect x="171" y="597" width="3" height="2" fill="#ff0000"/>
<rect x="171" y="599" width="1" height="2" fill="#ff0000"/>
<rect x="152" y="599" width="1" height="2" fill="#ff0000"/>
<rect x="153" y="599" width="3" height="3" fill="#00bfff"/>
<rect x="156" y="599" width="2" height="5" fill="#ffb6c1"/>
<rect x="150" y="601" width="2" height="1" fill="#ff0000"/>
<rect x="150" y="602" width="2" height="2" fill="#00ffff"/>
<rect x="152" y="602" width="4" height="2" fill="#ff0000"/>
<rect x="140" y="602" width="3" height="2" fill="#ffb6c1"/>
<rect x="166" y="602" width="6" height="2" fill="#00bfff"/>
<rect x="172" y="601" width="2" height="3" fill="#ff0000"/>
<rect x="140" y="604" width="6" height="2" fill="#ffb6c1"/>
<rect x="150" y="604" width="2" height="2" fill="#ff0000"/>
<rect x="156" y="604" width="2" height="2" fill="#ffb6c1"/>
<rect x="158" y="604" width="3" height="2" fill="#ff0000"/>
<rect x="161" y="604" width="3" height="2" fill="#ffb6c1"/>
<rect x="164" y="604" width="5" height="2" fill="#ff0000"/>
<rect x="169" y="604" width="2" height="2" fill="#ffb6c1"/>
<rect x="171" y="604" width="1" height="2" fill="#ffd700"/>
<rect x="172" y="604" width="5" height="2" fill="#ff0000"/>
<rect x="140" y="606" width="3" height="2" fill="#ffb6c1"/>
<rect x="150" y="606" width="2" height="2" fill="#ff0000"/>
<rect x="152" y="606" width="1" height="2" fill="#ffd700"/>
<rect x="153" y="606" width="11" height="2" fill="#ffb6c1"/>
<rect x="164" y="606" width="2" height="2" fill="#ff0000"/>
<rect x="166" y="606" width="3" height="2" fill="#ffb6c1"/>
<rect x="169" y="606" width="2" height="2" fill="#ff0000"/>
<rect x="172" y="606" width="2" height="2" fill="#00bfff"/>
<rect x="137" y="608" width="9" height="2" fill="#ffd700"/>
<rect x="150" y="608" width="2" height="2" fill="#ffd700"/>
<rect x="152" y="608" width="4" height="2" fill="#ffb6c1"/>
<rect x="158" y="608" width="11" height="2" fill="#ffb6c1"/>
<rect x="169" y="608" width="3" height="2" fill="#00ffff"/>
<rect x="172" y="608" width="2" height="2" fill="#ff0000"/>
<rect x="136" y="610" width="1" height="2" fill="#00ffff"/>
<rect x="137" y="610" width="13" height="2" fill="#ffb6c1"/>
<rect x="150" y="610" width="3" height="2" fill="#ff0000"/>
<rect x="153" y="610" width="3" height="2" fill="#00bfff"/>
<rect x="156" y="610" width="8" height="2" fill="#ffb6c1"/>
<rect x="164" y="610" width="2" height="2" fill="#ff0000"/>
<rect x="166" y="610" width="3" height="2" fill="#ffb6c1"/>
<rect x="171" y="610" width="6" height="2" fill="#00bfff"/>
<rect x="134" y="612" width="3" height="2" fill="#ffd700"/>
<rect x="137" y="612" width="3" height="2" fill="#00ffff"/>
<rect x="140" y="612" width="3" height="2" fill="#ffb6c1"/>
<rect x="143" y="612" width="3" height="2" fill="#ffd700"/>
<rect x="150" y="612" width="2" height="2" fill="#00ffff"/>
<rect x="152" y="612" width="4" height="2" fill="#ff0000"/>
<rect x="156" y="612" width="2" height="2" fill="#00bfff"/>
<rect x="158" y="612" width="6" height="2" fill="#ff0000"/>
<rect x="164" y="612" width="2" height="2" fill="#00bfff"/>
<rect x="166" y="612" width="3" height="2" fill="#ff0000"/>
<rect x="169" y="612" width="2" height="2" fill="#00ffff"/>
<rect x="172" y="612" width="2" height="2" fill="#ff0000"/>
<rect x="137" y="614" width="3" height="1" fill="#ff0000"/>
<rect x="150" y="614" width="3" height="1" fill="#ff0000"/>
<rect x="156" y="614" width="2" height="1" fill="#00bfff"/>
<rect x="158" y="614" width="6" height="1" fill="#ff0000"/>
<rect x="164" y="614" width="2" height="1" fill="#00bfff"/>
<rect x="166" y="614" width="5" height="1" fill="#00ffff"/>
<rect x="171" y="614" width="1" height="1" fill="#ff0000"/>
<rect x="140" y="615" width="3" height="2" fill="#ffb6c1"/>
<rect x="143" y="615" width="3" height="2" fill="#00ffff"/>
<rect x="146" y="615" width="6" height="2" fill="#ff0000"/>
<rect x="152" y="615" width="1" height="2" fill="#ffd700"/>
<rect x="153" y="615" width="3" height="2" fill="#00ffff"/>
<rect x="156" y="615" width="5" height="2" fill="#ff0000"/>
<rect x="161" y="615" width="3" height="2" fill="#00bfff"/>
<rect x="164" y="615" width="2" height="2" fill="#ff0000"/>
<rect x="171" y="615" width="1" height="2" fill="#ff0000"/>
<rect x="134" y="617" width="3" height="2" fill="#ffd700"/>
<rect x="140" y="617" width="3" height="2" fill="#ffb6c1"/>
<rect x="143" y="617" width="3" height="2" fill="#00ffff"/>
<rect x="146" y="617" width="6" height="2" fill="#ff0000"/>
<rect x="152" y="617" width="1" height="2" fill="#00bfff"/>
<rect x="153" y="617" width="5" height="2" fill="#ffb6c1"/>
<rect x="158" y="617" width="6" height="2" fill="#00bfff"/>
<rect x="164" y="617" width="2" height="2" fill="#ff0000"/>
<rect x="171" y="617" width="1" height="2" fill="#ff0000"/>
<rect x="134" y="619" width="3" height="2" fill="#ffd700"/>
<rect x="140" y="619" width="3" height="2" fill="#ff0000"/>
<rect x="146" y="619" width="4" height="2" fill="#ff0000"/>
<rect x="150" y="619" width="2" height="2" fill="#ffd700"/>
<rect x="152" y="619" width="1" height="2" fill="#ff0000"/>
<rect x="153" y="619" width="3" height="2" fill="#ffd700"/>
<rect x="156" y="619" width="2" height="2" fill="#ffb6c1"/>
<rect x="158" y="619" width="3" height="2" fill="#ff0000"/>
<rect x="161" y="619" width="3" height="2" fill="#00bfff"/>
<rect x="164" y="619" width="2" height="2" fill="#00ffff"/>
<rect x="171" y="619" width="1" height="2" fill="#ff0000"/>
<rect x="136" y="621" width="1" height="2" fill="#ffd700"/>
<rect x="140" y="621" width="3" height="2" fill="#00ffff"/>
<rect x="143" y="621" width="3" height="2" fill="#ff0000"/>
<rect x="150" y="621" width="2" height="2" fill="#ff0000"/>
<rect x="153" y="621" width="3" height="2" fill="#ffd700"/>
<rect x="156" y="621" width="5" height="2" fill="#ff0000"/>
<rect x="137" y="623" width="3" height="2" fill="#00ffff"/>
<rect x="140" y="623" width="3" height="2" fill="#ff0000"/>
<rect x="143" y="623" width="3" height="2" fill="#00ffff"/>
<rect x="150" y="623" width="2" height="2" fill="#ff0000"/>
<rect x="152" y="623" width="9" height="2" fill="#ff0000"/>
<rect x="134" y="625" width="2" height="2" fill="#ffb6c1"/>
<rect x="136" y="625" width="7" height="2" fill="#00ffff"/>
<rect x="143" y="625" width="3" height="2" fill="#ff0000"/>
<rect x="146" y="625" width="4" height="2" fill="#00ffff"/>
<rect x="150" y="625" width="11" height="2" fill="#ff0000"/>
<rect x="134" y="627" width="2" height="1" fill="#ffd700"/>
<rect x="140" y="627" width="12" height="1" fill="#ff0000"/>
<rect x="153" y="627" width="3" height="1" fill="#ffd700"/>
<rect x="156" y="627" width="2" height="1" fill="#ff0000"/>
<rect x="158" y="627" width="3" height="1" fill="#ffd700"/>
<rect x="134" y="628" width="2" height="2" fill="#00ffff"/>
<rect x="137" y="628" width="3" height="2" fill="#00ffff"/>
<rect x="140" y="628" width="12" height="2" fill="#ff0000"/>
<rect x="134" y="630" width="2" height="2" fill="#ffb6c1"/>
<rect x="137" y="630" width="3" height="2" fill="#00bfff"/>
<rect x="140" y="630" width="10" height="2" fill="#ff0000"/>
<rect x="134" y="632" width="2" height="2" fill="#ffb6c1"/>
<rect x="136" y="632" width="4" height="2" fill="#00ffff"/>
<rect x="140" y="632" width="6" height="2" fill="#ff0000"/>
<rect x="150" y="632" width="2" height="2" fill="#00ffff"/>
<rect x="156" y="632" width="2" height="2" fill="#ffd700"/>
<rect x="134" y="634" width="3" height="2" fill="#ff0000"/>
<rect x="137" y="634" width="3" height="2" fill="#00ffff"/>
<rect x="140" y="634" width="6" height="2" fill="#ff0000"/>
<rect x="156" y="634" width="2" height="2" fill="#ffd700"/>
<rect x="134" y="636" width="2" height="2" fill="#00ffff"/>
<rect x="137" y="636" width="3" height="2" fill="#00ffff"/>
<rect x="156" y="636" width="2" height="2" fill="#ff0000"/>
<rect x="128" y="614" width="3" height="1" fill="#00ffff"/>
<rect x="128" y="615" width="3" height="2" fill="#ffd700"/>
<rect x="131" y="619" width="3" height="2" fill="#00bfff"/>
<rect x="131" y="621" width="3" height="2" fill="#ffb6c1"/>
<rect x="131" y="623" width="3" height="4" fill="#ffd700"/>
<rect x="122" y="623" width="2" height="2" fill="#ff0000"/>
<rect x="122" y="625" width="2" height="2" fill="#00bfff"/>
<rect x="117" y="625" width="2" height="2" fill="#ffb6c1"/>
<rect x="117" y="627" width="2" height="1" fill="#ff0000"/>
<rect x="119" y="627" width="3" height="1" fill="#00bfff"/>
<rect x="122" y="627" width="2" height="1" fill="#00ffff"/>
<rect x="126" y="627" width="2" height="1" fill="#ffb6c1"/>
<rect x="128" y="627" width="6" height="1" fill="#ff0000"/>
<rect x="115" y="628" width="2" height="2" fill="#ffb6c1"/>
<rect x="119" y="628" width="3" height="2" fill="#ff0000"/>
<rect x="122" y="628" width="2" height="2" fill="#00ffff"/>
<rect x="126" y="628" width="2" height="2" fill="#ffd700"/>
<rect x="128" y="628" width="3" height="2" fill="#ffb6c1"/>
<rect x="131" y="628" width="5" height="2" fill="#00ffff"/>
<rect x="122" y="630" width="2" height="2" fill="#00ffff"/>
<rect x="126" y="630" width="2" height="2" fill="#00ffff"/>
<rect x="128" y="630" width="3" height="2" fill="#00bfff"/>
<rect x="131" y="630" width="3" height="2" fill="#00ffff"/>
<rect x="117" y="632" width="2" height="2" fill="#ffd700"/>
<rect x="119" y="632" width="3" height="2" fill="#ffb6c1"/>
<rect x="122" y="632" width="2" height="2" fill="#ff0000"/>
<rect x="126" y="632" width="2" height="2" fill="#00bfff"/>
<rect x="128" y="632" width="3" height="2" fill="#ff0000"/>
<rect x="131" y="632" width="5" height="2" fill="#ffb6c1"/>
<rect x="117" y="634" width="2" height="2" fill="#ffb6c1"/>
<rect x="119" y="634" width="5" height="2" fill="#ff0000"/>
<rect x="124" y="634" width="2" height="2" fill="#ffb6c1"/>
<rect x="126" y="634" width="2" height="2" fill="#ff0000"/>
<rect x="128" y="634" width="6" height="2" fill="#ffb6c1"/>
<rect x="117" y="636" width="5" height="2" fill="#00ffff"/>
<rect x="122" y="636" width="4" height="2" fill="#ff0000"/>
<rect x="126" y="636" width="2" height="2" fill="#00ffff"/>
<rect x="128" y="636" width="3" height="2" fill="#ff0000"/>
<rect x="131" y="636" width="3" height="2" fill="#ffb6c1"/>
<rect x="115" y="638" width="2" height="2" fill="#3a3aff"/>
<rect x="117" y="638" width="2" height="2" fill="#00bfff"/>
<rect x="119" y="638" width="3" height="2" fill="#00ffff"/>
<rect x="122" y="638" width="2" height="2" fill="#ff0000"/>
<rect x="126" y="638" width="5" height="2" fill="#ffd700"/>
<rect x="117" y="640" width="5" height="1" fill="#00ffff"/>
<rect x="126" y="640" width="2" height="1" fill="#00bfff"/>
<rect x="128" y="640" width="3" height="1" fill="#ffb6c1"/>
<rect x="111" y="641" width="2" height="2" fill="#00bfff"/>
<rect x="115" y="641" width="2" height="2" fill="#ba55d3"/>
<rect x="117" y="641" width="2" height="2" fill="#00bfff"/>
<rect x="119" y="641" width="3" height="2" fill="#ff0000"/>
<rect x="117" y="725" width="2" height="2" fill="#ffd700"/>
<rect x="117" y="727" width="2" height="2" fill="#ff0000"/>
<rect x="117" y="729" width="2" height="2" fill="#ffd700"/>
<rect x="117" y="731" width="2" height="3" fill="#00ffff"/>
<rect x="117" y="734" width="2" height="4" fill="#ffd700"/>
</g>
<g stroke="#b0b0b0" stroke-width="1.11" fill="none">
<path d="M138.50 100.5V793.5"/>
<path d="M230.50 100.5V793.5"/>
<path d="M323.50 100.5V793.5"/>
<path d="M415.50 100.5V793.5"/>
<path d="M508.50 100.5V793.5"/>
<path d="M600.50 100.5V793.5"/>
<path d="M692.50 100.5V793.5"/>
<path d="M785.50 100.5V793.5"/>
<path d="M92.5 793.50H785.5"/>
<path d="M92.5 669.50H785.5"/>
<path d="M92.5 545.50H785.5"/>
<path d="M92.5 421.50H785.5"/>
<path d="M92.5 298.50H785.5"/>
<path d="M92.5 174.50H785.5"/>
</g>
<g stroke="#000" stroke-width="1.11" fill="none">
<path d="M138.50 793.5v5.3"/>
<path d="M230.50 793.5v5.3"/>
<path d="M323.50 793.5v5.3"/>
<path d="M415.50 793.5v5.3"/>
<path d="M508.50 793.5v5.3"/>
<path d="M600.50 793.5v5.3"/>
<path d="M692.50 793.5v5.3"/>
<path d="M785.50 793.5v5.3"/>
<path d="M92.50 793.5v3.2" stroke-width="0.9"/>
<path d="M115.50 793.5v3.2" stroke-width="0.9"/>
<path d="M161.50 793.5v3.2" stroke-width="0.9"/>
<path d="M184.50 793.5v3.2" stroke-width="0.9"/>
<path d="M207.50 793.5v3.2" stroke-width="0.9"/>
<path d="M254.50 793.5v3.2" stroke-width="0.9"/>
<path d="M277.50 793.5v3.2" stroke-width="0.9"/>
<path d="M300.50 793.5v3.2" stroke-width="0.9"/>
<path d="M346.50 793.5v3.2" stroke-width="0.9"/>
<path d="M369.50 793.5v3.2" stroke-width="0.9"/>
<path d="M392.50 793.5v3.2" stroke-width="0.9"/>
<path d="M438.50 793.5v3.2" stroke-width="0.9"/>
<path d="M461.50 793.5v3.2" stroke-width="0.9"/>
<path d="M485.50 793.5v3.2" stroke-width="0.9"/>
<path d="M531.50 793.5v3.2" stroke-width="0.9"/>
<path d="M554.50 793.5v3.2" stroke-width="0.9"/>
<path d="M577.50 793.5v3.2" stroke-width="0.9"/>
<path d="M623.50 793.5v3.2" stroke-width="0.9"/>
<path d="M646.50 793.5v3.2" stroke-width="0.9"/>
<path d="M669.50 793.5v3.2" stroke-width="0.9"/>
<path d="M716.50 793.5v3.2" stroke-width="0.9"/>
<path d="M739.50 793.5v3.2" stroke-width="0.9"/>
<path d="M762.50 793.5v3.2" stroke-width="0.9"/>
<path d="M92.5 793.50h-5.3"/>
<path d="M92.5 669.50h-5.3"/>
<path d="M92.5 545.50h-5.3"/>
<path d="M92.5 421.50h-5.3"/>
<path d="M92.5 298.50h-5.3"/>
<path d="M92.5 174.50h-5.3"/>
<path d="M92.5 762.50h-3.2" stroke-width="0.9"/>
<path d="M92.5 731.50h-3.2" stroke-width="0.9"/>
<path d="M92.5 700.50h-3.2" stroke-width="0.9"/>
<path d="M92.5 638.50h-3.2" stroke-width="0.9"/>
<path d="M92.5 607.50h-3.2" stroke-width="0.9"/>
<path d="M92.5 576.50h-3.2" stroke-width="0.9"/>
<path d="M92.5 514.50h-3.2" stroke-width="0.9"/>
<path d="M92.5 483.50h-3.2" stroke-width="0.9"/>
<path d="M92.5 452.50h-3.2" stroke-width="0.9"/>
<path d="M92.5 390.50h-3.2" stroke-width="0.9"/>
<path d="M92.5 359.50h-3.2" stroke-width="0.9"/>
<path d="M92.5 329.50h-3.2" stroke-width="0.9"/>
<path d="M92.5 267.50h-3.2" stroke-width="0.9"/>
<path d="M92.5 236.50h-3.2" stroke-width="0.9"/>
<path d="M92.5 205.50h-3.2" stroke-width="0.9"/>
<path d="M92.5 143.50h-3.2" stroke-width="0.9"/>
<path d="M92.5 112.50h-3.2" stroke-width="0.9"/>
</g>
<rect x="92.5" y="100.5" width="693.0" height="693.0" fill="none" stroke="#000" stroke-width="1.11"/>
<g font-size="16.4px">
<text x="138.50" y="814.5" text-anchor="middle">2</text>
<text x="230.50" y="814.5" text-anchor="middle">4</text>
<text x="323.50" y="814.5" text-anchor="middle">6</text>
<text x="415.50" y="814.5" text-anchor="middle">8</text>
<text x="508.50" y="814.5" text-anchor="middle">10</text>
<text x="600.50" y="814.5" text-anchor="middle">12</text>
<text x="692.50" y="814.5" text-anchor="middle">14</text>
<text x="785.50" y="814.5" text-anchor="middle">16</text>
<text x="81.6" y="798.80" text-anchor="end">0</text>
<text x="81.6" y="674.80" text-anchor="end">200</text>
<text x="81.6" y="550.80" text-anchor="end">400</text>
<text x="81.6" y="426.80" text-anchor="end">600</text>
<text x="81.6" y="303.80" text-anchor="end">800</text>
<text x="81.6" y="179.80" text-anchor="end">1000</text>
</g>
<text x="438" y="842" font-size="24px" text-anchor="middle">Frequency (MHz)</text>
<text transform="translate(27.5 447) rotate(-90)" font-size="24px" text-anchor="middle">Virtual height (km)</text>
<text x="425.5" y="32.3" font-size="28.8px" text-anchor="middle">NAL CADI - Feb 18 23:30:00 2023 UTC</text>
<g shape-rendering="crispEdges">
<rect x="816" y="712" width="31" height="90" fill="#008000"/>
<rect x="816" y="622" width="31" height="90" fill="#ff0000"/>
<rect x="816" y="532" width="31" height="90" fill="#3a3aff"/>
<rect x="816" y="442" width="31" height="90" fill="#ba55d3"/>
<rect x="816" y="352" width="31" height="90" fill="#ffb6c1"/>
<rect x="816" y="262" width="31" height="90" fill="#ffd700"/>
<rect x="816" y="172" width="31" height="90" fill="#00ffff"/>
<rect x="816" y="82" width="31" height="90" fill="#00bfff"/>
</g>
<rect x="816.5" y="82.5" width="30.0" height="720.0" fill="none" stroke="#000" stroke-width="1.11"/>
<g stroke="#000" stroke-width="1.11" fill="none">
<path d="M846.5 802.5h3.2" stroke-width="0.9"/>
<path d="M846.5 712.5h3.2" stroke-width="0.9"/>
<path d="M846.5 622.5h3.2" stroke-width="0.9"/>
<path d="M846.5 532.5h3.2" stroke-width="0.9"/>
<path d="M846.5 442.5h3.2" stroke-width="0.9"/>
<path d="M846.5 352.5h3.2" stroke-width="0.9"/>
<path d="M846.5 262.5h3.2" stroke-width="0.9"/>
<path d="M846.5 172.5h3.2" stroke-width="0.9"/>
<path d="M846.5 82.5h3.2" stroke-width="0.9"/>
<path d="M846.5 757.5h5.3"/>
<path d="M846.5 667.5h5.3"/>
<path d="M846.5 577.5h5.3"/>
<path d="M846.5 487.5h5.3"/>
<path d="M846.5 397.5h5.3"/>
<path d="M846.5 307.5h5.3"/>
<path d="M846.5 217.5h5.3"/>
<path d="M846.5 127.5h5.3"/>
</g>
<g font-size="16.4px">
<text x="855.5" y="762.6">X-mode</text>
<text x="855.5" y="672.6">Vertical</text>
<text x="855.5" y="582.6">NNW</text>
<text x="855.5" y="492.6">W</text>
<text x="855.5" y="402.6">SSW</text>
<text x="855.5" y="312.6">SSE</text>
<text x="855.5" y="222.6">E</text>
<text x="855.5" y="132.6">NNE</text>
</g>
<text transform="translate(943 442.5) rotate(-90)" font-size="24px" text-anchor="middle">Azimuth Direction</text>
</svg></body></html>
